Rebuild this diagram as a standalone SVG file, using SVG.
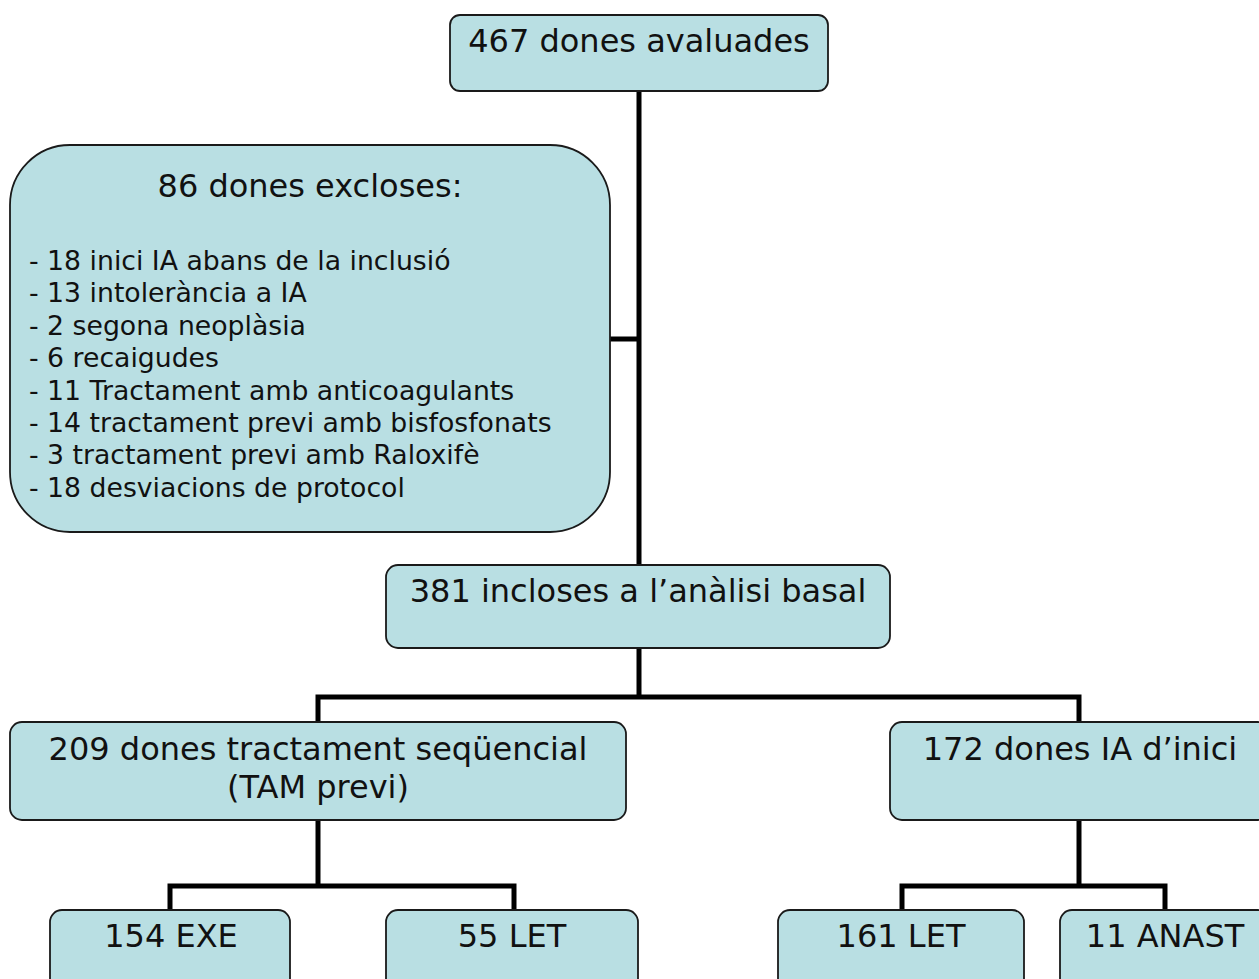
<svg xmlns="http://www.w3.org/2000/svg" width="1259" height="979" viewBox="0 0 1259 979">
<style>
.box{fill:#B9DFE3;stroke:#1a1a1a;stroke-width:1.8}
.t{font-family:"DejaVu Sans",Verdana,sans-serif;font-size:32px;fill:#111;text-anchor:middle}
.l{font-family:"DejaVu Sans",Verdana,sans-serif;font-size:26.7px;fill:#111}
.c{stroke:#000;stroke-width:5;fill:none}
</style>
<rect width="1259" height="979" fill="#fff"/>
<g id="connectors">
<path class="c" d="M639,91 V565"/>
<path class="c" d="M610,339 H639"/>
<path class="c" d="M639,648 V697"/>
<path class="c" d="M318,722 V697 H1079 V722"/>
<path class="c" d="M318,820 V886"/>
<path class="c" d="M170,910 V886 H514 V910"/>
<path class="c" d="M1079,820 V886"/>
<path class="c" d="M902,910 V886 H1165 V910"/>
</g>
<g id="n467">
<rect class="box" x="450" y="15" width="378" height="76" rx="10"/>
<text class="t" x="639" y="52">467 dones avaluades</text>
</g>
<g id="n86">
<rect class="box" x="10" y="145" width="600" height="387" rx="60"/>
<text class="t" x="310" y="197">86 dones excloses:</text>
<text class="l" x="29" y="270">- 18 inici IA abans de la inclusió</text>
<text class="l" x="29" y="302.4">- 13 intolerància a IA</text>
<text class="l" x="29" y="334.8">- 2 segona neoplàsia</text>
<text class="l" x="29" y="367.2">- 6 recaigudes</text>
<text class="l" x="29" y="399.6">- 11 Tractament amb anticoagulants</text>
<text class="l" x="29" y="432">- 14 tractament previ amb bisfosfonats</text>
<text class="l" x="29" y="464.4">- 3 tractament previ amb Raloxifè</text>
<text class="l" x="29" y="496.8">- 18 desviacions de protocol</text>
</g>
<g id="n381">
<rect class="box" x="386" y="565" width="504" height="83" rx="12"/>
<text class="t" x="638" y="602">381 incloses a l’anàlisi basal</text>
</g>
<g id="n209">
<rect class="box" x="10" y="722" width="616" height="98" rx="12"/>
<text class="t" x="318" y="760">209 dones tractament seqüencial</text>
<text class="t" x="318" y="798">(TAM previ)</text>
</g>
<g id="n172">
<rect class="box" x="890" y="722" width="380" height="98" rx="12"/>
<text class="t" x="1080" y="760">172 dones IA d’inici</text>
</g>
<g id="n154">
<rect class="box" x="50" y="910" width="240" height="90" rx="12"/>
<text class="t" x="171" y="947">154 EXE</text>
</g>
<g id="n55">
<rect class="box" x="386" y="910" width="252" height="90" rx="12"/>
<text class="t" x="512" y="947">55 LET</text>
</g>
<g id="n161">
<rect class="box" x="778" y="910" width="246" height="90" rx="12"/>
<text class="t" x="901" y="947">161 LET</text>
</g>
<g id="n11">
<rect class="box" x="1060" y="910" width="210" height="90" rx="12"/>
<text class="t" x="1165" y="947">11 ANAST</text>
</g>
</svg>
